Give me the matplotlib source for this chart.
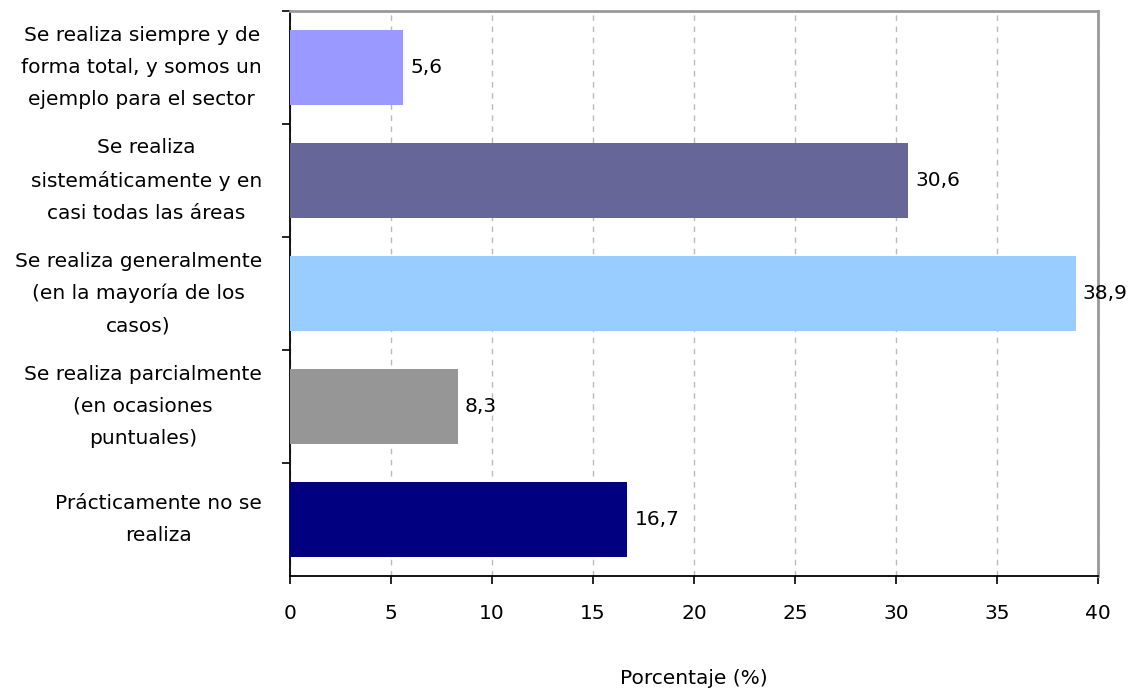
import matplotlib.pyplot as plt

categories = [
    "Se realiza siempre y de\nforma total, y somos un\nejemplo para el sector",
    "Se realiza\nsistemáticamente y en\ncasi todas las áreas",
    "Se realiza generalmente\n(en la mayoría de los\ncasos)",
    "Se realiza parcialmente\n(en ocasiones\npuntuales)",
    "Prácticamente no se\nrealiza",
]
values = [5.6, 30.6, 38.9, 8.3, 16.7]
labels = ["5,6", "30,6", "38,9", "8,3", "16,7"]
colors = ["#9999FF", "#666699", "#99CCFF", "#969696", "#000080"]

plt.rcParams['font.family'] = ['DejaVu Sans']
fs = 14.5

fig = plt.figure(figsize=(11.36, 6.9), dpi=100)
ax = fig.add_axes([290 / 1136, 1 - 576 / 690, 808 / 1136, 565 / 690])

pos = list(range(len(values)))
ax.barh(pos, values, height=0.66, color=colors, zorder=3)
for p, v, t in zip(pos, values, labels):
    ax.text(v + 0.35, p, t, va='center', ha='left', fontsize=fs)

ax.set_xlim(0, 40)
ax.set_ylim(len(values) - 0.5, -0.5)
ax.set_xticks(range(0, 41, 5))
ax.tick_params(axis='x', labelsize=fs, length=6, width=1.2, pad=14, direction='out')

# category labels between boundary ticks
ax.set_yticks([p + 0.5 for p in pos[:-1]] + [-0.5])
ax.set_yticklabels([])
ax.set_yticks(pos, minor=True)
ax.set_yticklabels(categories, minor=True, fontsize=fs, multialignment='center',
                   linespacing=1.85, va='center')
ax.tick_params(axis='y', which='minor', length=0, pad=20)
ax.tick_params(axis='y', which='major', length=6, width=1.2)

ax.grid(axis='x', color='#BBBBBB', linestyle=(0, (4, 4)), linewidth=1, zorder=0)
for s in ['top', 'right']:
    ax.spines[s].set_color('#999999')
    ax.spines[s].set_linewidth(2)
for s in ['left', 'bottom']:
    ax.spines[s].set_color('black')
    ax.spines[s].set_linewidth(1.3)

ax.set_xlabel("Porcentaje (%)", fontsize=fs, labelpad=33)

fig.savefig("out.png", dpi=100)
